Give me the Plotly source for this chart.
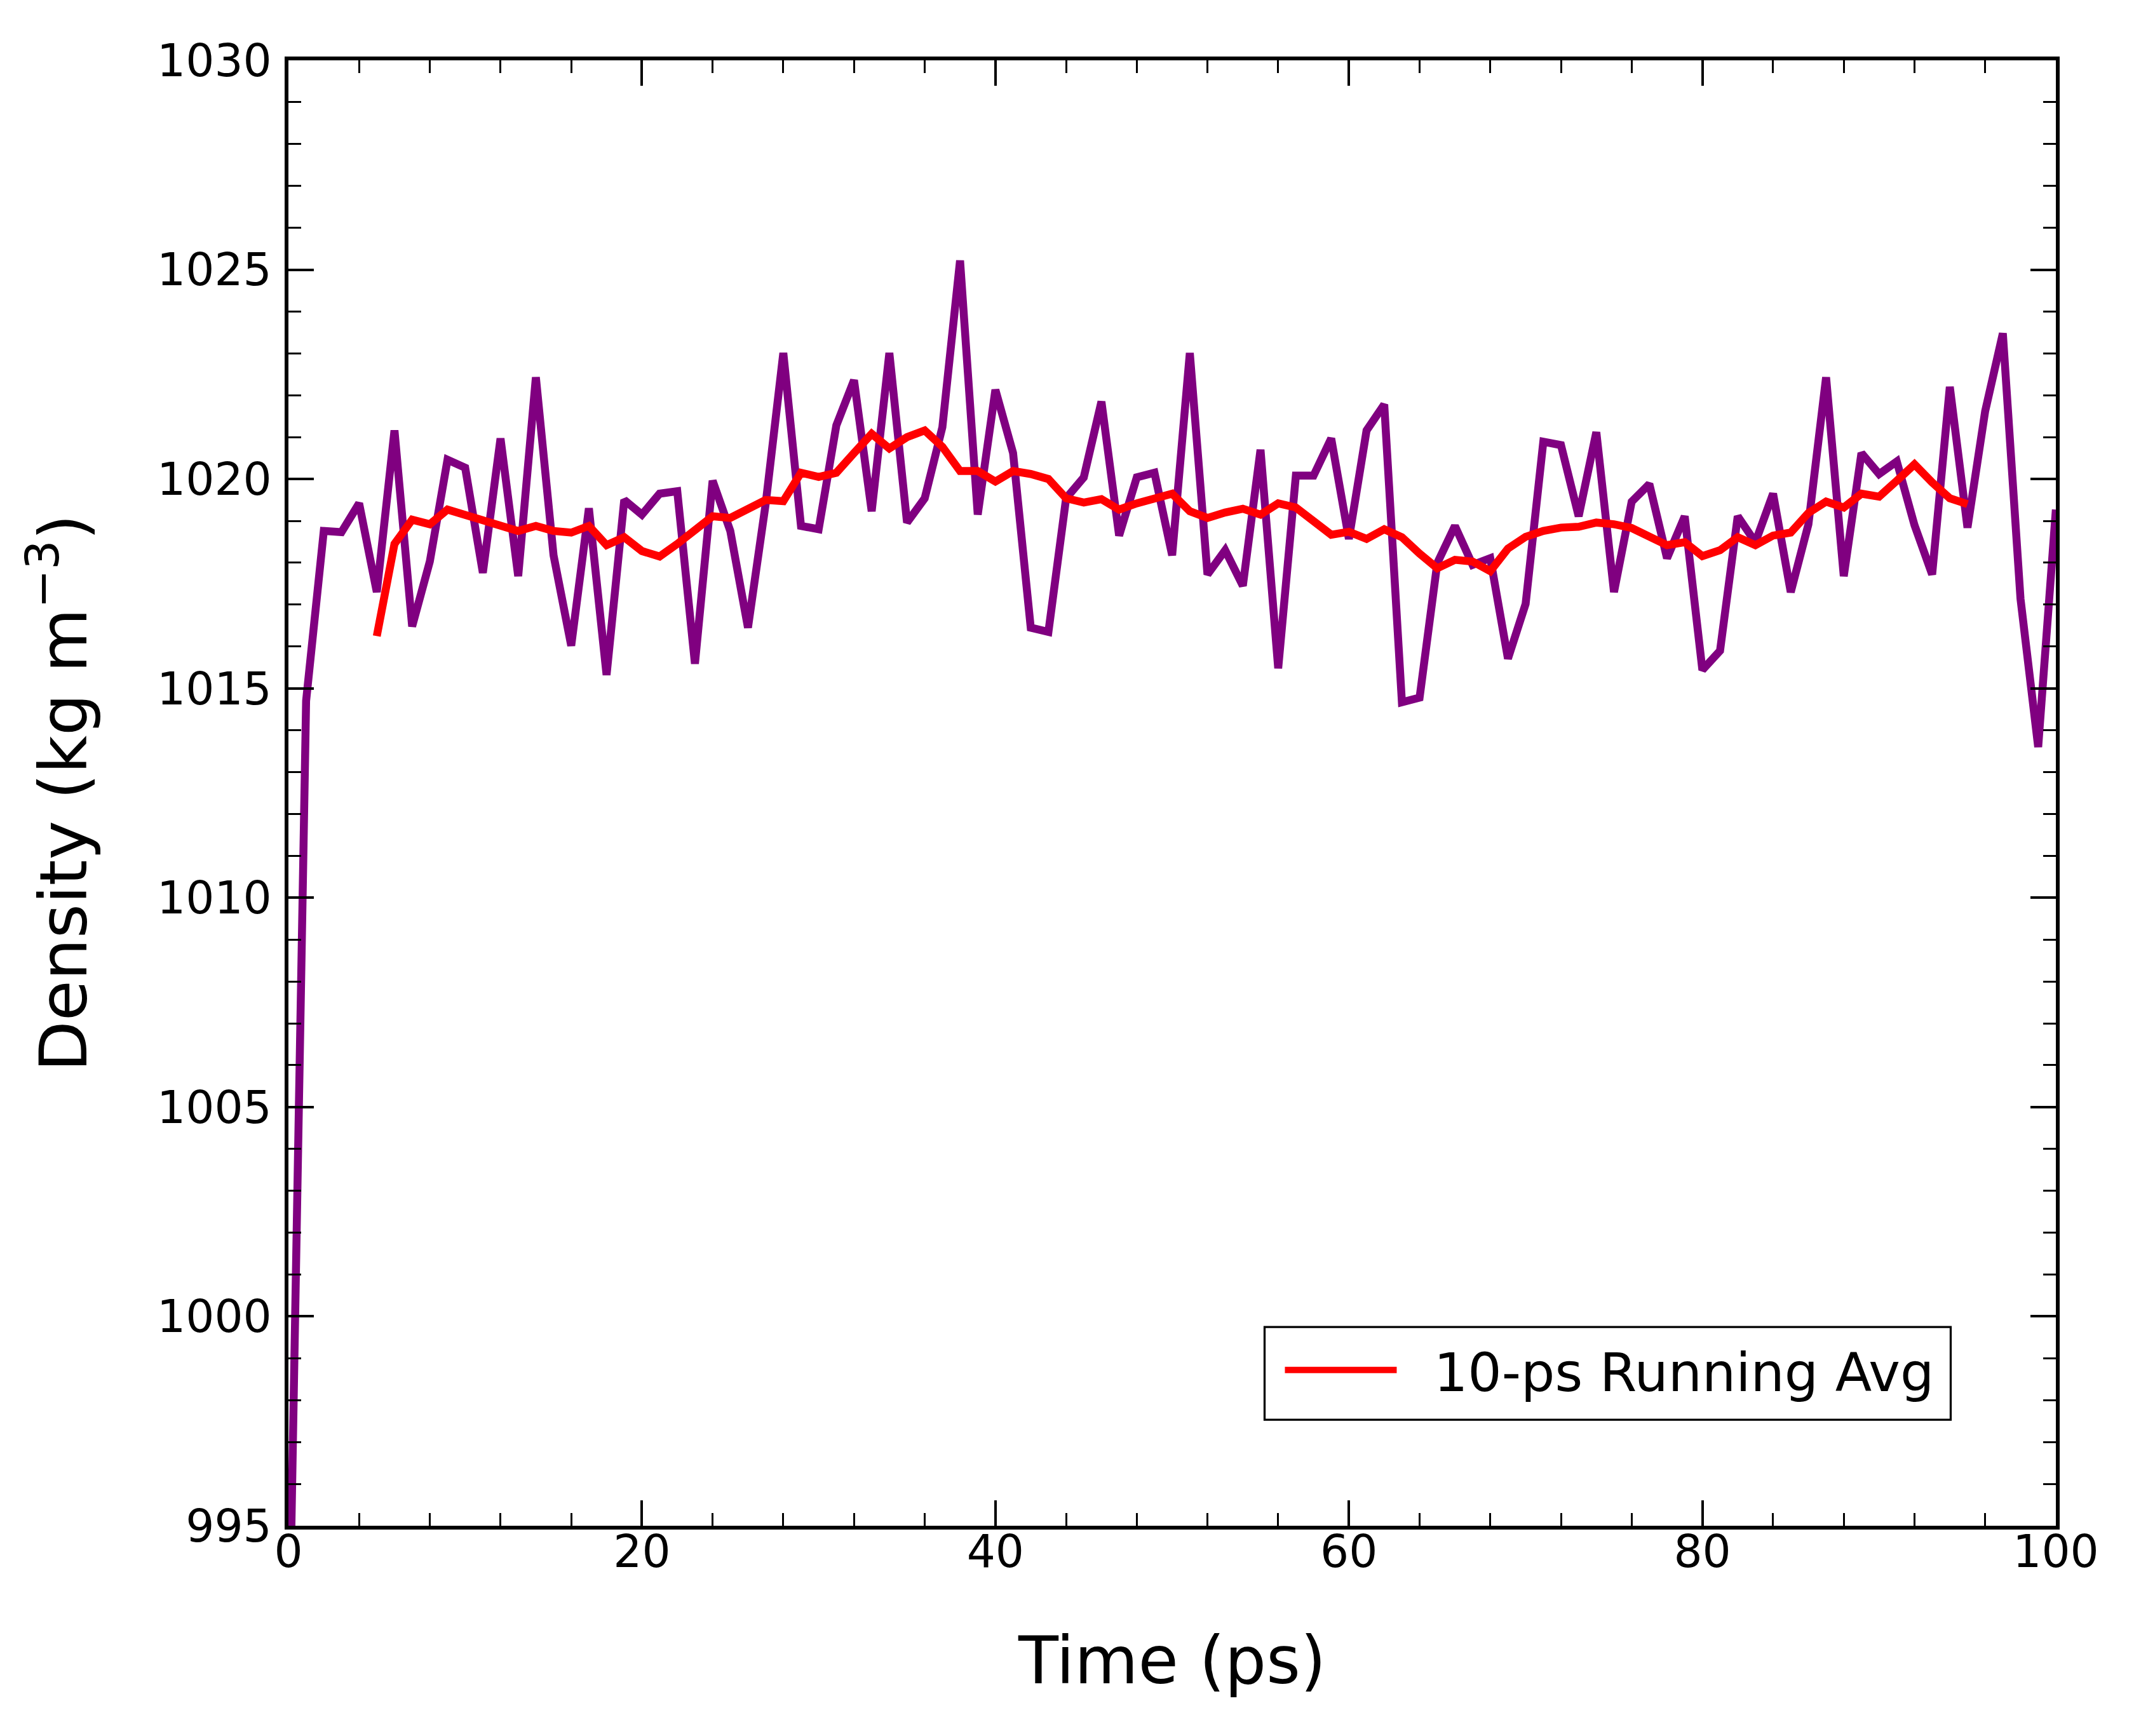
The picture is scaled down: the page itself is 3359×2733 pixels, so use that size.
import plotly.graph_objects as go

# ---- data ----
time_ps = list(range(0, 101))
density = [
    991.0, 1014.7, 1018.76, 1018.73, 1019.42, 1017.3, 1021.16, 1016.48, 1018.03, 1020.46,
    1020.27, 1017.76, 1020.97, 1017.68, 1022.43, 1018.18, 1016.02, 1019.30, 1015.32, 1019.50,
    1019.15, 1019.65, 1019.71, 1015.59, 1019.96, 1018.76, 1016.45, 1019.4, 1023.01, 1018.88,
    1018.80, 1021.28, 1022.36, 1019.23, 1023.01, 1018.96, 1019.54, 1021.24, 1025.22, 1019.15,
    1022.13, 1020.62, 1016.45, 1016.35, 1019.54, 1020.04, 1021.85, 1018.65, 1020.04, 1020.15,
    1018.18, 1023.01, 1017.72, 1018.30, 1017.45, 1020.70, 1015.48, 1020.08, 1020.08, 1020.97,
    1018.57, 1021.16, 1021.78, 1014.67, 1014.78, 1017.99, 1018.88, 1017.95, 1018.11, 1015.71,
    1017.02, 1020.89, 1020.81, 1019.11, 1021.12, 1017.30, 1019.46, 1019.88, 1018.11, 1019.11,
    1015.44, 1015.90, 1019.11, 1018.49, 1019.65, 1017.30, 1018.92, 1022.43, 1017.68, 1020.62,
    1020.12, 1020.42, 1018.9, 1017.72, 1022.20, 1018.84, 1021.62, 1023.48, 1017.14, 1013.6,
    1019.27,
]

avg_time_ps = list(range(5, 96))
running_avg = [
    1016.25, 1018.45, 1019.03, 1018.92, 1019.27, 1019.15, 1019.03, 1018.88, 1018.76, 1018.88,
    1018.76, 1018.72, 1018.88, 1018.42, 1018.61, 1018.28, 1018.15, 1018.45, 1018.80, 1019.11,
    1019.07, 1019.30, 1019.50, 1019.47, 1020.15, 1020.05, 1020.15, 1020.62, 1021.08, 1020.73,
    1021.00, 1021.16, 1020.77, 1020.19, 1020.19, 1019.94, 1020.19, 1020.12, 1020.00, 1019.54,
    1019.44, 1019.52, 1019.27, 1019.42, 1019.54, 1019.65, 1019.23, 1019.07, 1019.20, 1019.29,
    1019.15, 1019.42, 1019.32, 1018.99, 1018.67, 1018.74, 1018.57, 1018.80, 1018.61, 1018.22,
    1017.87, 1018.07, 1018.03, 1017.80, 1018.34, 1018.62, 1018.76, 1018.84, 1018.86, 1018.96,
    1018.92, 1018.83, 1018.65, 1018.42, 1018.49, 1018.16, 1018.30, 1018.61, 1018.42, 1018.65,
    1018.72, 1019.19, 1019.46, 1019.32, 1019.65, 1019.58, 1019.96, 1020.35, 1019.92, 1019.54,
    1019.40,
]

legend_label = "10-ps Running Avg"
x_title = "Time (ps)"
y_title = "Density (kg m<sup>−3</sup>)"

FONT = "DejaVu Sans"

fig = go.Figure()
fig.add_trace(go.Scatter(
    x=time_ps, y=density, mode="lines",
    line=dict(color="#800080", width=12.5),
    showlegend=False,
))
fig.add_trace(go.Scatter(
    x=avg_time_ps, y=running_avg, mode="lines",
    line=dict(color="#ff0000", width=12.5),
    name="\u2007" + legend_label,
))

axis_common = dict(
    showgrid=False, zeroline=False,
    showline=True, linecolor="black", linewidth=6,
    mirror="allticks",
    ticks="inside", ticklen=40, tickwidth=4, tickcolor="black",
    tickfont=dict(family=FONT, size=71, color="black"),
)

fig.update_xaxes(
    range=[0, 100], tick0=0, dtick=20,
    minor=dict(ticks="inside", ticklen=20, tickwidth=3.3, tickcolor="black", dtick=4, tick0=0),
    title=dict(text=x_title, font=dict(family=FONT, size=103, color="black"), standoff=97),
    ticklabelstandoff=-26,
    **axis_common,
)
fig.update_yaxes(
    range=[995, 1030], tick0=995, dtick=5,
    minor=dict(ticks="inside", ticklen=20, tickwidth=3.3, tickcolor="black", dtick=1, tick0=995),
    title=dict(text=y_title, font=dict(family=FONT, size=104, color="black"), standoff=78),
    ticklabelstandoff=6,
    **axis_common,
)

# legend frame (matplotlib-style padded box)
fig.add_shape(
    type="rect", xref="paper", yref="paper",
    x0=0.5523, x1=0.9405, y0=0.0723, y1=0.1356,
    line=dict(color="black", width=3.3), fillcolor="white", layer="below",
)

fig.update_layout(
    width=3359, height=2733,
    margin=dict(l=454, r=123, t=95, b=331, autoexpand=False),
    paper_bgcolor="white", plot_bgcolor="white",
    font=dict(family=FONT, color="black"),
    legend=dict(
        x=0.5620, y=0.1061, xanchor="left", yanchor="middle",
        bgcolor="rgba(0,0,0,0)", borderwidth=0,
        font=dict(family=FONT, size=84, color="black"),
        itemwidth=176,
    ),
)

fig.write_html(
    "out.html",
    config={"displayModeBar": False},
    post_script="document.body.style.margin='0';",
)
